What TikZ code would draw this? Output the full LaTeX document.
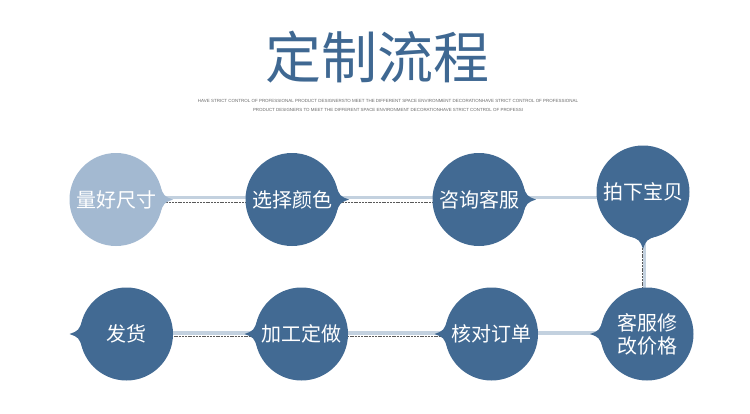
\documentclass[tikz,border=0pt]{standalone}
\usepackage{fontspec}
\newfontfamily\cjk{Noto Sans CJK SC}
\setsansfont{Liberation Sans}
\usetikzlibrary{calc,backgrounds}
\definecolor{dblue}{HTML}{426A93}
\definecolor{lblue}{HTML}{A3B9D1}
\definecolor{barc}{HTML}{C3D1DF}
\definecolor{titlec}{HTML}{3F6892}
\definecolor{subc}{HTML}{6A6A6A}
\newcommand\ptr[3]{%
  \fill[#3] ($(#1)+(#2+18:46)$) .. controls ($(#1)+(#2+4:48)$) .. ($(#1)+(#2:57)$)
    .. controls ($(#1)+(#2-4:48)$) .. ($(#1)+(#2-18:46)$) -- cycle;}
\begin{document}
\begin{tikzpicture}[x=1pt,y=-1pt,
  stepcirc/.style={circle, fill=dblue, minimum size=93pt, inner sep=0pt, text=white,
    font=\cjk\fontsize{20}{23}\selectfont, align=center},
  barline/.style={draw=barc, line width=3.5pt},
  dashline/.style={draw=black!65, line width=0.5pt, dash pattern=on 2pt off 0.8pt}]
\useasboundingbox (0,0) rectangle (750,413);
\node[text=titlec, font=\cjk\fontsize{56}{60}\selectfont, inner sep=0pt] (title) at (377,57) {定制流程};
\node[text=subc, inner sep=0pt] (sub1) at (388,101) {\resizebox{380pt}{!}{\sffamily HAVE STRICT CONTROL OF PROFESSIONAL PRODUCT DESIGNERSTO MEET THE DIFFERENT SPACE ENVIRONMENT DECORATIONHAVE STRICT CONTROL OF PROFESSIONAL}};
\node[text=subc, inner sep=0pt] (sub2) at (388,110) {\resizebox{270pt}{!}{\sffamily PRODUCT DESIGNERS TO MEET THE DIFFERENT SPACE ENVIRONMENT DECORATIONHAVE STRICT CONTROL OF PROFESSI}};

\node[stepcirc, fill=lblue] (c1) at (116,199.5) {量好尺寸};
\node[stepcirc] (c2) at (292,199.5) {选择颜色};
\node[stepcirc] (c3) at (479,199.5) {咨询客服};
\node[stepcirc] (c4) at (643,192) {拍下宝贝};
\node[stepcirc] (c5) at (647,334) {客服修\\改价格};
\node[stepcirc] (c6) at (491.5,334) {核对订单};
\node[stepcirc] (c7) at (301.5,334) {加工定做};
\node[stepcirc] (c8) at (126.5,334) {发货};

\ptr{c1}{0}{lblue}
\ptr{c2}{0}{dblue}
\ptr{c3}{0}{dblue}
\ptr{c4}{90}{dblue}
\ptr{c5}{180}{dblue}
\ptr{c6}{180}{dblue}
\ptr{c7}{180}{dblue}
\ptr{c8}{180}{dblue}

\begin{scope}[on background layer]
  \fill[white] (0,0) rectangle (750,413);
  \draw[barline] ($(c1)+(0,-2)$) -- ($(c2)+(0,-2)$);
  \draw[dashline] ($(c1)+(0,2.5)$) -- ($(c2)+(0,2.5)$);
  \draw[barline] ($(c2)+(0,-2)$) -- ($(c3)+(0,-2)$);
  \draw[dashline] ($(c2)+(0,2.5)$) -- ($(c3)+(0,2.5)$);
  \draw[barline] ($(c3)+(0,-2)$) -- ($(c4)+(0,5.5)$);
  \draw[barline] ($(c4)+(1.5,0)$) -- ($(c5)+(-2.5,0)$);
  \draw[dashline] ($(c4)+(-1,0)$) -- ($(c5)+(-5,0)$);
  \draw[barline] ($(c5)+(0,-1)$) -- ($(c6)+(0,-1)$);
  \draw[barline] ($(c6)+(0,-1)$) -- ($(c7)+(0,-1)$);
  \draw[dashline] ($(c6)+(0,2.5)$) -- ($(c7)+(0,2.5)$);
  \draw[barline] ($(c7)+(0,-1)$) -- ($(c8)+(0,-1)$);
  \draw[dashline] ($(c7)+(0,2.5)$) -- ($(c8)+(0,2.5)$);
\end{scope}
\end{tikzpicture}
\end{document}
